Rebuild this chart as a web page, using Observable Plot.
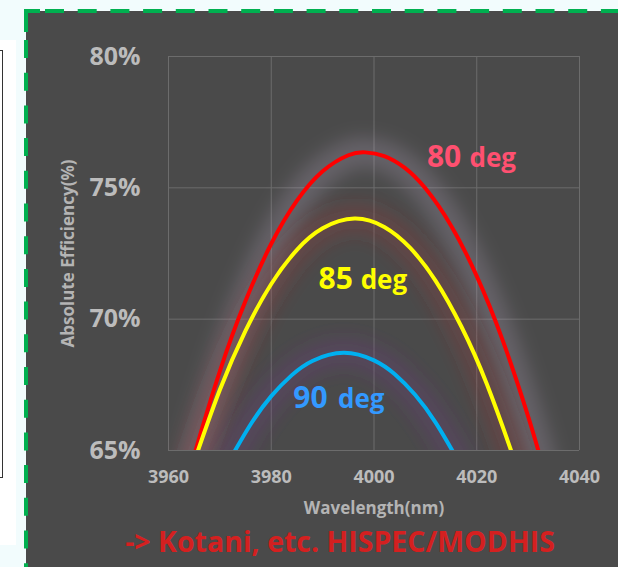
<!DOCTYPE html>
<html>
<head>
<meta charset="utf-8">
<script src="https://cdn.jsdelivr.net/npm/d3@7"></script>
<script src="https://cdn.jsdelivr.net/npm/@observablehq/plot@0.6"></script>
<style>
  html, body { margin: 0; padding: 0; }
  body { width: 618px; height: 567px; overflow: hidden; position: relative; background: #f2fcfd; font-family: "Open Sans", sans-serif; }
  #whitebox { position: absolute; left: 0; top: 40px; width: 16px; height: 505px; background: #ffffff; }
  #blackbox { position: absolute; left: -20px; top: 50px; width: 23px; height: 428px; box-sizing: border-box; border: 1.5px solid #333; }
  #panel { position: absolute; left: 26px; top: 11px; right: 0; bottom: 0; background: #4a4a4a; }
  #border { position: absolute; left: 0; top: 0; }
  #chart { position: absolute; left: 26px; top: 11px; }
  #caption { position: absolute; left: 40px; width: 600px; top: 524px; text-align: center; font: bold 28.5px "Open Sans", sans-serif; line-height: 34px; color: #d42020; white-space: nowrap; }
</style>
</head>
<body>
<div id="whitebox"></div>
<div id="blackbox"></div>
<div id="panel"></div>
<svg id="border" width="618" height="567">
  <path d="M26,32 L26,11 L40,11" fill="none" stroke="#00b050" stroke-width="4"/>
  <line x1="26" y1="11" x2="618" y2="11" stroke="#00b050" stroke-width="4" stroke-dasharray="19 13.7" stroke-dashoffset="13.7"/>
  <line x1="26" y1="11" x2="26" y2="567" stroke="#00b050" stroke-width="4" stroke-dasharray="18 14.7" stroke-dashoffset="3.7"/>
</svg>
<div id="chart"></div>
<div id="caption">-&gt; Kotani, etc. HISPEC/MODHIS</div>
<script>
// ---- data ----
const redX = [3964, 3965, 3970, 3975, 3980, 3985, 3990, 3995, 3998.3, 4002, 4006, 4010, 4015, 4020, 4025, 4030, 4033];
const redY = [64.11, 64.82, 68.02, 70.70, 72.87, 74.51, 75.63, 76.24, 76.35, 76.21, 75.76, 74.98, 73.56, 71.64, 69.22, 66.30, 64.30];

const yellowX = [3965, 3970, 3975, 3980, 3985, 3990, 3996.2, 4002, 4007, 4012, 4017, 4022, 4027, 4028];
const yellowY = [64.58, 67.31, 69.56, 71.34, 72.64, 73.46, 73.83, 73.51, 72.72, 71.46, 69.72, 67.51, 64.82, 64.22];

const blueX = [3972, 3976, 3980, 3984, 3988, 3994.1, 4000, 4004, 4008, 4012, 4016];
const blueY = [64.67, 66.00, 67.07, 67.87, 68.41, 68.72, 68.43, 67.91, 67.12, 66.06, 64.74];

const seriesNames = ["80 deg", "85 deg", "90 deg"];
const lineColors = ["#ff0000", "#ffff00", "#00b0f0"];
const glowColors = ["#c8b8d0", "#b83838", "#7a3a98"];

const labelNum = ["80", "85", "90"];
const labelUnit = "deg";
const labelNumX = [4010.3, 3989.2, 3984.3];
const labelDegX = [4018.6, 3997.4, 3993.0];
const labelY = [75.79, 71.16, 66.63];
const labelColors = ["#ff5070", "#ffff00", "#3399ff"];

const xTicks = [3960, 3980, 4000, 4020, 4040];
const yTicks = [65, 70, 75, 80];
const xTitle = "Wavelength(nm)";
const yTitle = "Absolute Efficiency(%)";

// ---- build tables ----
const makeSeries = (xs, ys, name) => xs.map((x, i) => ({x, y: ys[i], name}));
const curves = [
  makeSeries(redX, redY, seriesNames[0]),
  makeSeries(yellowX, yellowY, seriesNames[1]),
  makeSeries(blueX, blueY, seriesNames[2])
];
const labels = labelNum.map((n, i) => ({n, x: labelNumX[i], dx: labelDegX[i], y: labelY[i], c: labelColors[i]}));

const glowMarks = curves.map((d, i) => Plot.line(d, {
  x: "x", y: "y", curve: "natural", clip: true,
  stroke: glowColors[i], strokeWidth: 30, strokeOpacity: 0.22,
  ariaDescription: "glow"
}));
const lineMarks = curves.map((d, i) => Plot.line(d, {
  x: "x", y: "y", curve: "natural", clip: true,
  stroke: lineColors[i], strokeWidth: 4
}));

const svg = Plot.plot({
  width: 592,
  height: 514,
  marginLeft: 142,
  marginRight: 39,
  marginTop: 45,
  marginBottom: 75,
  style: {background: "transparent", fontFamily: "'Open Sans', sans-serif", color: "#bcbcbc", overflow: "visible"},
  x: {domain: [3960, 4040]},
  y: {domain: [65, 80]},
  marks: [
    Plot.gridX(xTicks, {stroke: "#6c6c6c", strokeOpacity: 1, strokeWidth: 1}),
    Plot.gridY(yTicks, {stroke: "#6c6c6c", strokeOpacity: 1, strokeWidth: 1}),
    ...glowMarks,
    ...lineMarks,
    Plot.axisX(xTicks, {tickSize: 0, tickPadding: 20, fontSize: 18, fontWeight: "bold", fill: "#bcbcbc", tickFormat: d => String(d), label: null}),
    Plot.axisY(yTicks, {tickSize: 0, tickPadding: 28, fontSize: 25, fontWeight: "bold", fill: "#bcbcbc", tickFormat: d => d + "%", label: null}),
    Plot.text([xTitle], {frameAnchor: "bottom", dy: 63, fontSize: 17, fontWeight: "bold", fill: "#b4b4b4"}),
    Plot.text([yTitle], {frameAnchor: "left", textAnchor: "middle", rotate: -90, dx: -100, fontSize: 17, fontWeight: "bold", fill: "#b4b4b4"}),
    Plot.text(labels, {x: "x", y: "y", text: "n", fill: "c", textAnchor: "start", lineAnchor: "bottom", fontSize: 30, fontWeight: "bold"}),
    Plot.text(labels, {x: "dx", y: "y", text: () => labelUnit, fill: "c", textAnchor: "start", lineAnchor: "bottom", fontSize: 26, fontWeight: "bold"})
  ]
});

// soft glow (blur) applied to the glow line groups
const sel = d3.select(svg);
const defs = sel.insert("defs", ":first-child");
const f = defs.append("filter").attr("id", "glow").attr("x", "-30%").attr("y", "-30%").attr("width", "160%").attr("height", "160%");
f.append("feGaussianBlur").attr("stdDeviation", 9);
sel.selectAll('g[aria-description="glow"]').attr("filter", "url(#glow)");

document.getElementById("chart").appendChild(svg);
</script>
</body>
</html>
